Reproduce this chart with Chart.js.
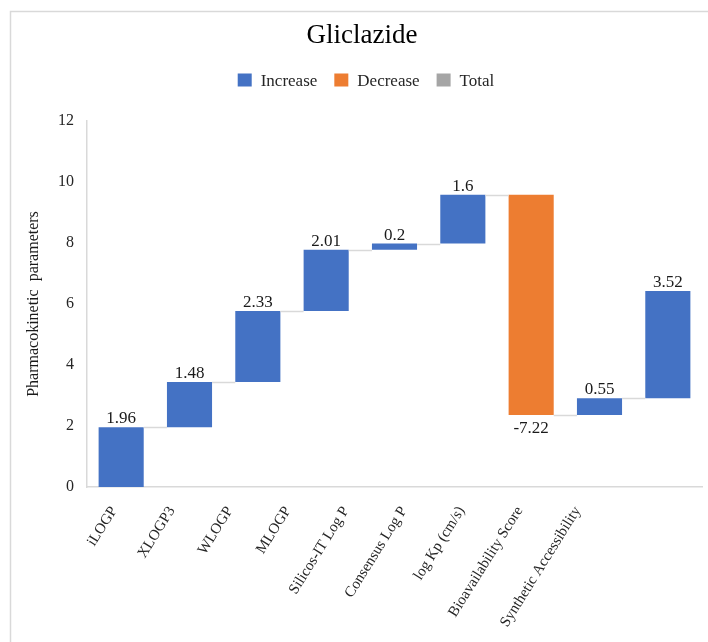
<!DOCTYPE html>
<html>
<head>
<meta charset="utf-8">
<script src="https://cdn.jsdelivr.net/npm/chart.js@4/dist/chart.umd.min.js"></script>
<style>
  html, body { margin: 0; padding: 0; background: #ffffff; }
  #wrap { width: 708px; height: 642px; }
</style>
</head>
<body>
<div id="wrap"><canvas id="chart" width="708" height="642"></canvas></div>
<script>
// Waterfall of Gliclazide pharmacokinetic parameters
const categories = [
  'iLOGP', 'XLOGP3', 'WLOGP', 'MLOGP', 'Silicos-IT Log P',
  'Consensus Log P', 'log Kp (cm/s)', 'Bioavailability Score', 'Synthetic Accessibility'
];
const changes = [1.96, 1.48, 2.33, 2.01, 0.2, 1.6, -7.22, 0.55, 3.52];
const totals = [null, null, null, null, null, null, null, null, null];
const yMin = 0;
const yMax = 12;
const yStep = 2;
const seriesNames = ['Increase', 'Decrease', 'Total'];

const COLORS = { inc: '#4472C4', dec: '#ED7D31', tot: '#A5A5A5' };
const SERIF = "'Liberation Serif', 'Times New Roman', serif";

// category labels sit on a tighter pitch than the bars, slanted upward
const LABEL_SPREAD = 0.848;
const LABEL_ANGLE = 58 * Math.PI / 180;

// running levels for floating bars
const starts = [];
const ends = [];
let level = 0;
changes.forEach(c => { starts.push(level); level += c; ends.push(level); });

const increaseData = changes.map((c, i) => c >= 0 ? [starts[i], ends[i]] : null);
const decreaseData = changes.map((c, i) => c < 0 ? [starts[i], ends[i]] : null);

function barElement(chart, i) {
  for (let d = 0; d < chart.data.datasets.length; d++) {
    const v = chart.data.datasets[d].data[i];
    if (v) return chart.getDatasetMeta(d).data[i];
  }
  return null;
}

const framePlugin = {
  id: 'frame',
  beforeDraw(chart) {
    const ctx = chart.ctx;
    ctx.save();
    ctx.fillStyle = '#ffffff';
    ctx.fillRect(0, 0, chart.width, chart.height);
    ctx.strokeStyle = '#D9D9D9';
    ctx.lineWidth = 1.5;
    ctx.beginPath();
    ctx.moveTo(10.5, chart.height);
    ctx.lineTo(10.5, 11.5);
    ctx.lineTo(chart.width, 11.5);
    ctx.stroke();
    ctx.restore();
  }
};

const headerPlugin = {
  id: 'header',
  afterDraw(chart) {
    const ctx = chart.ctx;
    ctx.save();
    ctx.fillStyle = '#000000';
    ctx.font = '27px ' + SERIF;
    ctx.textAlign = 'center';
    ctx.textBaseline = 'alphabetic';
    ctx.fillText('Gliclazide', 362, 43);

    // legend
    ctx.font = '17px ' + SERIF;
    const swatches = [COLORS.inc, COLORS.dec, COLORS.tot];
    const box = 14, gap = 9, itemGap = 17;
    const widths = seriesNames.map(n => ctx.measureText(n).width);
    const total = widths.reduce((a, w) => a + box + gap + w, 0) + itemGap * (seriesNames.length - 1);
    let x = 366 - total / 2;
    ctx.textAlign = 'left';
    seriesNames.forEach((n, i) => {
      ctx.fillStyle = swatches[i];
      ctx.fillRect(x, 73.5, box, 13);
      ctx.fillStyle = '#262626';
      ctx.fillText(n, x + box + gap, 86);
      x += box + gap + widths[i] + itemGap;
    });
    ctx.restore();
  }
};

const categoryLabelPlugin = {
  id: 'categoryLabels',
  afterDraw(chart) {
    const ctx = chart.ctx;
    const xs = chart.scales.x;
    ctx.save();
    ctx.font = '15px ' + SERIF;
    ctx.fillStyle = '#262626';
    ctx.textAlign = 'right';
    ctx.textBaseline = 'middle';
    categories.forEach((label, i) => {
      const px = xs.left + (xs.getPixelForTick(i) - xs.left) * LABEL_SPREAD - 2;
      const py = xs.top + 21;
      ctx.save();
      ctx.translate(px, py);
      ctx.rotate(-LABEL_ANGLE);
      ctx.fillText(label, 0, 0);
      ctx.restore();
    });
    ctx.restore();
  }
};

const connectorPlugin = {
  id: 'connectors',
  afterDatasetsDraw(chart) {
    const ctx = chart.ctx;
    const y = chart.scales.y;
    ctx.save();
    ctx.strokeStyle = '#D9D9D9';
    ctx.lineWidth = 1.5;
    for (let i = 0; i < categories.length - 1; i++) {
      const a = barElement(chart, i);
      const b = barElement(chart, i + 1);
      if (!a || !b) continue;
      const py = Math.round(y.getPixelForValue(ends[i])) + 0.5;
      ctx.beginPath();
      ctx.moveTo(a.x + a.width / 2, py);
      ctx.lineTo(b.x - b.width / 2, py);
      ctx.stroke();
    }
    ctx.restore();
  }
};

const valueLabelPlugin = {
  id: 'valueLabels',
  afterDatasetsDraw(chart) {
    const ctx = chart.ctx;
    ctx.save();
    ctx.font = '17px ' + SERIF;
    ctx.fillStyle = '#1a1a1a';
    ctx.textAlign = 'center';
    changes.forEach((c, i) => {
      const el = barElement(chart, i);
      if (!el) return;
      const top = Math.min(el.y, el.base);
      const bottom = Math.max(el.y, el.base);
      if (c >= 0) {
        ctx.textBaseline = 'alphabetic';
        ctx.fillText(String(c), el.x, top - 4);
      } else {
        ctx.textBaseline = 'top';
        ctx.fillText(String(c), el.x, bottom + 5);
      }
    });
    ctx.restore();
  }
};

new Chart(document.getElementById('chart'), {
  type: 'bar',
  data: {
    labels: categories,
    datasets: [
      { label: seriesNames[0], data: increaseData, backgroundColor: COLORS.inc },
      { label: seriesNames[1], data: decreaseData, backgroundColor: COLORS.dec },
      { label: seriesNames[2], data: totals, backgroundColor: COLORS.tot }
    ]
  },
  options: {
    responsive: false,
    animation: false,
    devicePixelRatio: 1,
    layout: { padding: { left: 10, right: 6, top: 121, bottom: 0 } },
    datasets: { bar: { categoryPercentage: 1, barPercentage: 0.66, borderSkipped: false } },
    plugins: {
      legend: { display: false },
      title: { display: false },
      tooltip: { enabled: false }
    },
    scales: {
      x: {
        stacked: true,
        grid: { display: false, drawTicks: false },
        border: { display: true, color: '#D9D9D9', width: 1.5 },
        ticks: { display: false },
        afterFit(scale) { scale.height = 155; }
      },
      y: {
        stacked: false,
        min: yMin,
        max: yMax,
        grid: { display: false, drawTicks: false },
        border: { display: true, color: '#D9D9D9', width: 1.5 },
        ticks: {
          stepSize: yStep,
          padding: 13,
          color: '#262626',
          font: { family: SERIF, size: 16 }
        },
        title: {
          display: true,
          text: 'Pharmacokinetic  parameters',
          color: '#1a1a1a',
          font: { family: SERIF, size: 16 },
          padding: { top: 14, bottom: 0 }
        },
        afterFit(scale) { scale.width = 77; }
      }
    }
  },
  plugins: [framePlugin, connectorPlugin, valueLabelPlugin, categoryLabelPlugin, headerPlugin]
});
</script>
</body>
</html>
